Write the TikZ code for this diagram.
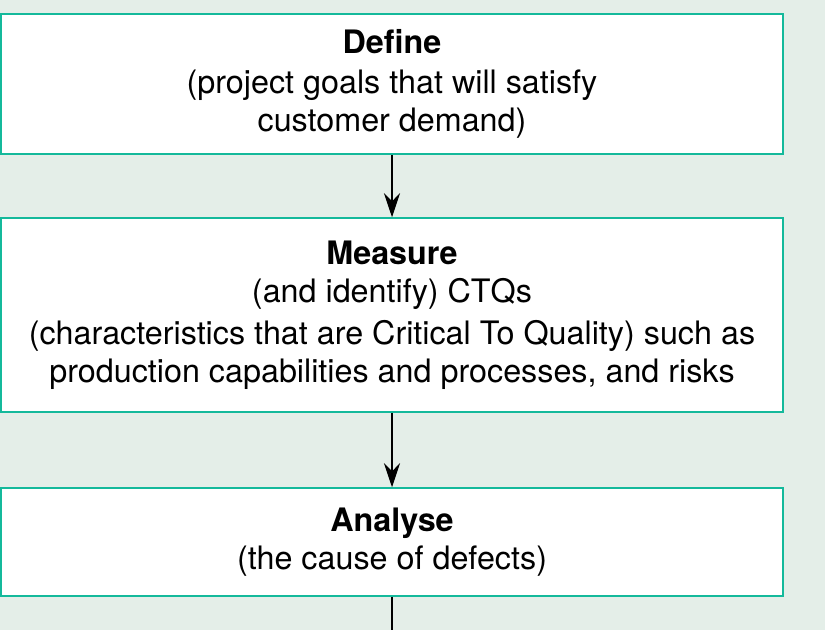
\documentclass[tikz,border=0pt]{standalone}
\usepackage{fontspec}
\setmainfont{TeX Gyre Heros}
\usetikzlibrary{arrows.meta}
\definecolor{stageborder}{RGB}{20,185,155}
\definecolor{pagebg}{RGB}{228,238,232}

\begin{document}
\begin{tikzpicture}[x = 1pt, y = -1pt,
	stagebox/.style = {draw = stageborder,
					   line width = 1.5pt,
					   fill = white,
					   minimum width = 782pt,
					   inner sep = 0pt,
					   align = center,
					   font = \fontsize{32.3}{38}\selectfont},
	flow/.style = {line width = 1.2pt,
				   -{Stealth[length = 24pt, width = 16pt, inset = 8pt]}}]
	\fill[pagebg] (0,0) rectangle (825,630);
	\useasboundingbox (0,0) rectangle (825,630);

	\draw (392, 84) node[stagebox,
					 minimum height = 140pt](define) {\textbf{Define}\\[2pt]
					 (project goals that will satisfy\\
					 customer demand)};
	\draw (392, 315) node[stagebox,
					 minimum height = 194pt](measure) {\textbf{Measure}\\
					 (and identify) CTQs\\[4pt]
					 (characteristics that are Critical To Quality) such as\\
					 production capabilities and processes, and risks};
	\draw (392, 542) node[stagebox,
					 minimum height = 108pt](analyse) {\textbf{Analyse}\\
					 (the cause of defects)};
	\coordinate (next) at (392, 630);

	\draw[flow] (define) -- (measure);
	\draw[flow] (measure) -- (analyse);
	\draw[line width = 1.2pt] (analyse) -- (next);
\end{tikzpicture}
\end{document}
